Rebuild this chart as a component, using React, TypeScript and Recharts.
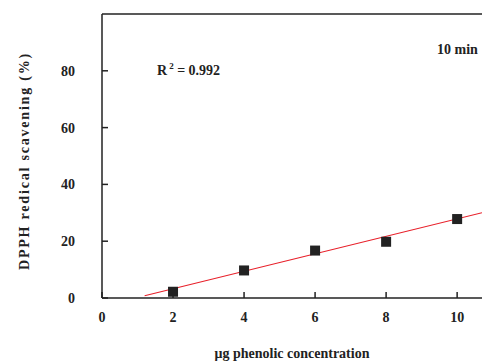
import React from 'react';
import { ComposedChart, Scatter, Line, XAxis, YAxis, ReferenceLine } from 'recharts';

const concentrations = [2, 4, 6, 8, 10];
const scavenging = [2.2, 9.7, 16.7, 19.8, 27.8];
const fitX = [1.2, 10.7];
const fitY = [0.8, 30.0];
const xTicks = [0, 2, 4, 6, 8, 10];
const yTicks = [0, 20, 40, 60, 80];

const points = concentrations.map((x, i) => ({ x, y: scavenging[i] }));
const fitLine = fitX.map((x, i) => ({ x, y: fitY[i] }));

const FONT = '"Liberation Serif", "Times New Roman", serif';
const tickStyle = { fontSize: 14, fontWeight: 'bold', fill: '#222', fontFamily: FONT };

const Square = (props: any) => {
    const { cx, cy } = props;
    if (cx == null || cy == null) return null;
    return <rect x={cx - 5} y={cy - 5} width={10} height={10} fill="#222" />;
};

const App: React.FC = () => {
    return (
        <div style={{ position: 'absolute', left: 0, top: 0, width: 482, height: 364, background: '#fff' }}>
            <ComposedChart width={482} height={364} margin={{ top: 14, right: 0, left: 0, bottom: 0 }}>
                <XAxis
                    type="number"
                    dataKey="x"
                    domain={[0, 10.7]}
                    ticks={xTicks}
                    allowDataOverflow
                    height={66}
                    stroke="#222"
                    strokeWidth={1.5}
                    tickSize={-6}
                    tickMargin={20}
                    tick={tickStyle}
                    label={{
                        value: 'μg phenolic concentration',
                        position: 'insideBottom',
                        offset: 6,
                        style: { ...tickStyle, fontSize: 14, textAnchor: 'middle' },
                    }}
                />
                <YAxis
                    type="number"
                    dataKey="y"
                    domain={[0, 100]}
                    ticks={yTicks}
                    allowDataOverflow
                    width={102}
                    stroke="#222"
                    strokeWidth={1.5}
                    tickSize={-6}
                    tickMargin={33}
                    tick={tickStyle}
                />
                <ReferenceLine y={100} stroke="#222" strokeWidth={1.5} />
                <Line
                    data={fitLine}
                    dataKey="y"
                    type="linear"
                    stroke="#e8202a"
                    strokeWidth={1.1}
                    dot={false}
                    isAnimationActive={false}
                />
                <Scatter data={points} dataKey="y" shape={<Square />} isAnimationActive={false} />
            </ComposedChart>
            <div
                style={{
                    position: 'absolute',
                    left: 25,
                    top: 161,
                    transform: 'translate(-50%, -50%) rotate(-90deg)',
                    whiteSpace: 'nowrap',
                    fontFamily: FONT,
                    fontWeight: 'bold',
                    fontSize: 14,
                    letterSpacing: 1.8,
                    color: '#222',
                }}
            >
                DPPH redical scavening (%)
            </div>
            <div
                style={{
                    position: 'absolute',
                    left: 157,
                    top: 61,
                    fontFamily: FONT,
                    fontWeight: 'bold',
                    fontSize: 14,
                    color: '#222',
                    whiteSpace: 'nowrap',
                }}
            >
                R<sup style={{ fontSize: 9, marginLeft: 2 }}>2</sup> = 0.992
            </div>
            <div
                style={{
                    position: 'absolute',
                    left: 437,
                    top: 42,
                    fontFamily: FONT,
                    fontWeight: 'bold',
                    fontSize: 14,
                    color: '#222',
                    whiteSpace: 'nowrap',
                }}
            >
                10 min
            </div>
        </div>
    );
};

export default App;
